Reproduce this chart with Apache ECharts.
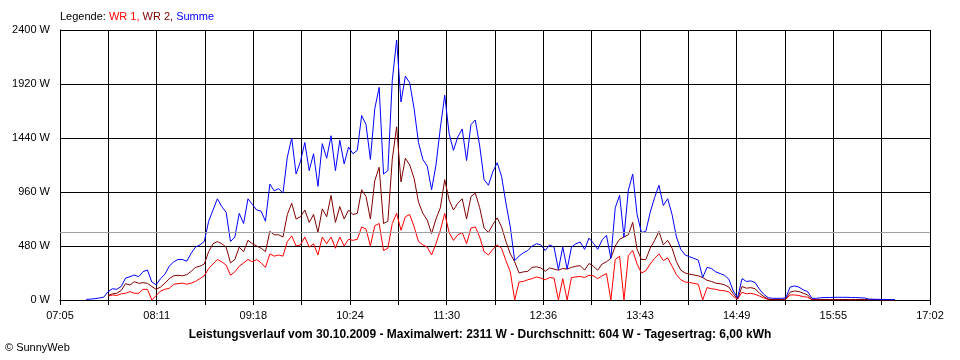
<!DOCTYPE html>
<html><head><meta charset="utf-8">
<script src="https://cdn.jsdelivr.net/npm/echarts@6/dist/echarts.min.js"></script>
<style>html,body{margin:0;padding:0;background:#fff}#c{width:960px;height:360px}</style>
</head><body><div id="c"></div>
<script>
// ---- data ----
const AXIS_START = '07:05';
const AXIS_END = '17:02';
const FIRST_SAMPLE = '07:23';
const SAMPLE_STEP_MIN = 3;
const tickLabels = ['07:05','08:11','09:18','10:24','11:30','12:36','13:43','14:49','15:55','17:02'];
const yTicks = [0, 480, 960, 1440, 1920, 2400];
const average = 604;

const wr1 = [
 null,null,null,null,null,35,45,40,55,60,
 74,60,60,95,95,0,40,80,95,105,
 140,145,150,140,150,165,190,215,280,320,
 360,340,310,220,250,300,330,360,340,360,
 330,290,410,390,400,390,520,570,480,490,
 560,470,500,400,560,500,560,460,560,480,
 540,530,540,650,630,480,660,680,440,460,
 680,770,620,740,760,650,520,490,470,400,
 500,620,770,600,530,580,600,500,640,650,
 560,430,400,450,490,460,350,250,0,160,
 165,180,190,205,195,180,200,195,0,190,
 0,200,205,210,200,220,215,190,215,235,
 0,360,390,0,395,440,320,240,260,320,
 370,410,350,375,300,225,180,160,155,148,
 140,0,110,100,95,85,82,72,30,8,
 70,55,60,50,35,18,5,3,3,3,
 5,45,45,40,30,25,3,3,3,3,
 3,3,3,3,3,3,3,3,3,3,
 3,3,2,2,2,2
];
const wr2 = [
 null,null,null,null,null,40,55,60,85,145,
 133,163,148,154,148,120,95,115,150,190,
 215,220,215,225,255,290,300,320,430,500,
 520,500,470,330,360,470,430,530,500,480,
 460,430,610,580,580,560,760,860,720,740,
 800,690,760,600,810,740,930,690,830,720,
 800,760,770,980,920,720,1060,1180,680,700,
 1250,1540,1050,1260,1200,1080,870,770,710,590,
 720,820,1070,890,800,860,900,720,920,950,
 820,640,600,670,730,650,520,410,340,240,
 250,255,290,295,285,255,285,275,265,280,
 275,290,300,305,265,325,300,265,320,340,
 370,480,540,560,580,690,450,360,360,460,
 530,610,490,530,460,340,265,240,230,222,
 215,200,175,165,150,145,135,115,55,10,
 120,105,110,100,60,30,8,4,4,4,
 8,70,80,75,60,45,4,4,4,4,
 4,4,4,4,4,4,4,4,4,4,
 4,4,3,3,3,3
];
const summe = [
 5,8,12,18,25,75,100,95,120,195,
 207,222,207,252,267,160,135,190,230,300,
 340,360,360,345,415,470,490,520,700,800,
 900,830,780,520,560,770,680,900,850,800,
 790,700,1030,970,990,950,1270,1440,1120,1230,
 1400,1150,1300,1010,1390,1260,1460,1150,1420,1210,
 1360,1300,1330,1640,1560,1250,1700,1890,1120,1150,
 1950,2311,1760,1990,1930,1700,1400,1250,1190,980,
 1200,1530,1820,1480,1330,1450,1520,1240,1560,1600,
 1370,1070,1020,1140,1220,1100,860,650,350,390,
 420,440,480,500,490,440,490,470,270,470,
 275,470,500,515,450,550,505,450,535,575,
 370,820,930,560,975,1120,760,600,610,780,
 910,1020,840,900,760,560,450,400,385,370,
 355,200,290,280,250,235,220,185,80,20,
 190,165,170,155,95,50,20,15,15,15,
 18,115,125,115,90,75,15,15,20,22,
 22,24,24,24,24,22,22,20,18,8,
 7,6,5,5,4,4
];

// ---- helpers ----
const toMin = s => { const [h, m] = s.split(':').map(Number); return h * 60 + m; };
const U = 6; // axis unit = 10 s
const axisStart = toMin(AXIS_START);
const axisMax = (toMin(AXIS_END) - axisStart) * U;      // 3582
const gridSteps = (tickLabels.length - 1) * 2;           // 18 grid intervals
const xInterval = axisMax / gridSteps;                    // 199
const firstOff = toMin(FIRST_SAMPLE) - axisStart;
const pairs = arr => arr.map((v, i) => [(firstOff + i * SAMPLE_STEP_MIN) * U, v]);

const FONT = '"Liberation Sans", Arial, sans-serif';
const chart = echarts.init(document.getElementById('c'), null, {renderer: 'canvas'});
const lineSeries = (name, color, data, extra) => Object.assign({
  name, type: 'line', data: pairs(data), showSymbol: false,
  connectNulls: false, lineStyle: {color, width: 1}, itemStyle: {color},
  emphasis: {disabled: true}, animation: false
}, extra || {});

const rs = c => ({color: c, fontSize: 11, fontFamily: FONT, fontWeight: 'normal'});
chart.setOption({
  animation: false,
  backgroundColor: '#fff',
  title: {
    text: '{a|Legende: }{r|WR 1, }{d|WR 2, }{b|Summe}',
    left: 60, top: 11, padding: 0,
    textStyle: {fontWeight: 'normal', fontSize: 11, fontFamily: FONT,
      rich: {a: rs('#000'), r: rs('#ff0000'), d: rs('#800000'), b: rs('#0000ff')}}
  },
  graphic: [
    {type: 'text', left: 'center', top: 329, style: {
      text: 'Leistungsverlauf vom 30.10.2009 - Maximalwert: 2311 W - Durchschnitt: 604 W - Tagesertrag: 6,00 kWh',
      font: 'bold 12px ' + FONT, fill: '#000'}},
    {type: 'text', left: 5, top: 342, style: {
      text: '\u00A9 SunnyWeb', font: '11px ' + FONT, fill: '#000'}}
  ],
  grid: {left: 60, right: 30, top: 30, bottom: 60, containLabel: false},
  xAxis: {
    type: 'value', min: 0, max: axisMax, interval: xInterval,
    axisLine: {show: true, lineStyle: {color: '#000', width: 1}},
    axisTick: {show: true, length: 5, lineStyle: {color: '#000'}},
    splitLine: {show: true, lineStyle: {color: '#000', width: 1}},
    axisLabel: {
      color: '#000', fontSize: 11, fontFamily: FONT, margin: 10,
      showMinLabel: true, showMaxLabel: true,
      formatter: v => { const i = Math.round(v / xInterval); return i % 2 === 0 ? tickLabels[i / 2] : ''; }
    }
  },
  yAxis: {
    type: 'value', min: yTicks[0], max: yTicks[yTicks.length - 1], interval: yTicks[1] - yTicks[0],
    axisLine: {show: true, lineStyle: {color: '#000', width: 1}},
    axisTick: {show: false},
    splitLine: {show: true, lineStyle: {color: '#000', width: 1}},
    axisLabel: {color: '#000', fontSize: 11, fontFamily: FONT, margin: 10, formatter: v => v + ' W'}
  },
  series: [
    lineSeries('WR 1', '#ff0000', wr1, {
      markLine: {silent: true, symbol: 'none', animation: false, label: {show: false},
        lineStyle: {color: '#a0a0a0', width: 1, type: 'solid'}, data: [{yAxis: average}]}
    }),
    lineSeries('WR 2', '#800000', wr2),
    lineSeries('Summe', '#0000ff', summe)
  ]
});
</script>
</body></html>
